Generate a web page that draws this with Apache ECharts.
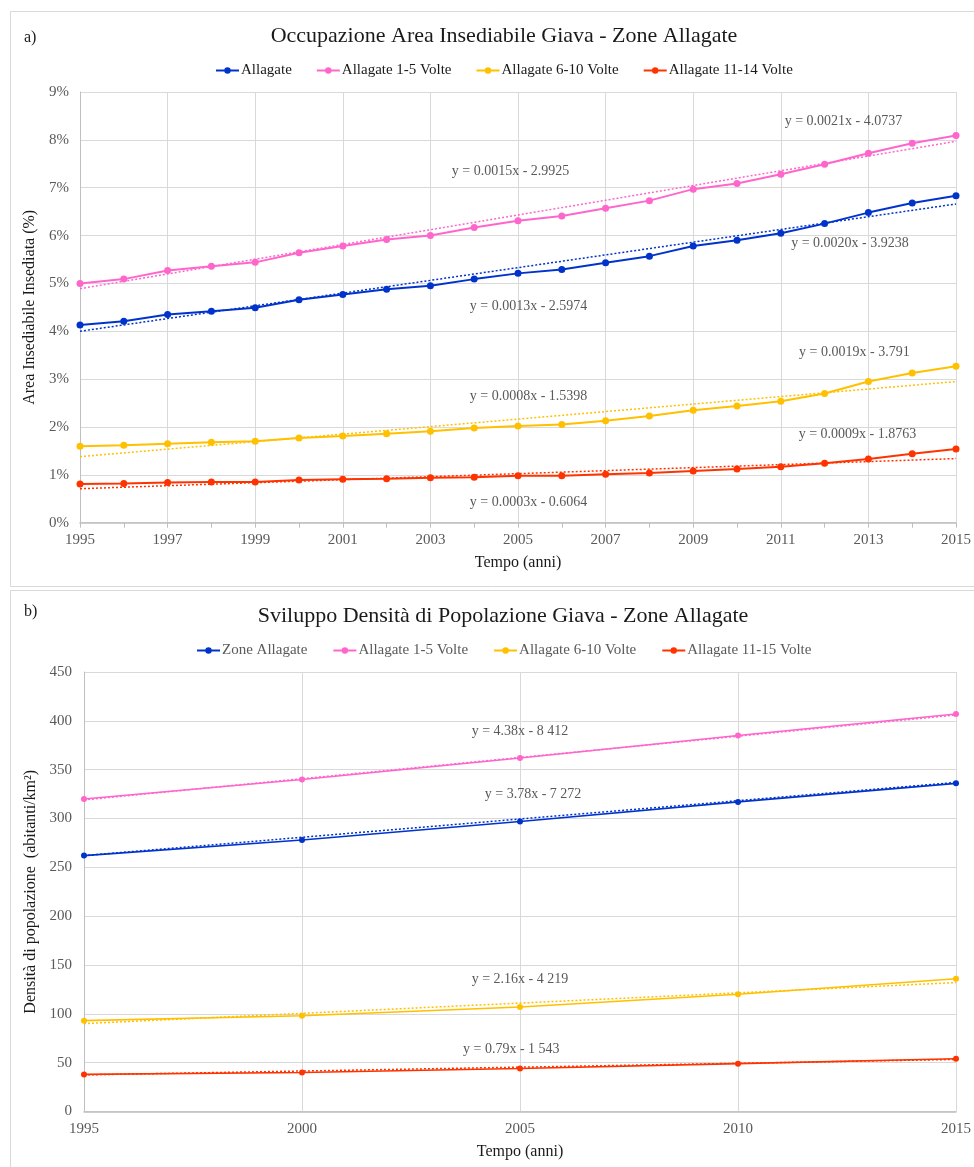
<!DOCTYPE html>
<html><head><meta charset="utf-8">
<script src="https://cdn.jsdelivr.net/npm/echarts@6/dist/echarts.min.js"></script>
<style>html,body{margin:0;padding:0;background:#fff}#c{width:974px;height:1167px}</style>
</head><body><div id="c"></div><script>
// ---------- Chart a) data ----------
const yearsA = [1995,1996,1997,1998,1999,2000,2001,2002,2003,2004,2005,2006,2007,2008,2009,2010,2011,2012,2013,2014,2015];
const allagateA = [4.13,4.21,4.35,4.42,4.49,4.66,4.77,4.88,4.95,5.09,5.21,5.29,5.43,5.57,5.78,5.90,6.05,6.25,6.48,6.68,6.83];
const volte1_5A = [5.00,5.09,5.27,5.36,5.44,5.64,5.78,5.92,6.00,6.17,6.31,6.41,6.57,6.73,6.97,7.09,7.28,7.49,7.72,7.93,8.09];
const volte6_10A = [1.60,1.62,1.65,1.68,1.70,1.77,1.81,1.86,1.91,1.98,2.02,2.05,2.13,2.23,2.35,2.44,2.54,2.70,2.95,3.13,3.27];
const volte11_14A = [0.81,0.82,0.84,0.85,0.85,0.89,0.91,0.92,0.94,0.95,0.98,0.98,1.01,1.04,1.08,1.12,1.17,1.24,1.33,1.44,1.54];
const namesA = ['Allagate','Allagate 1-5 Volte','Allagate 6-10 Volte','Allagate 11-14 Volte'];
const trendStartA = [4.00,4.89,1.38,0.71];   // trendline value at 1995
const trendEndA = [6.66,7.97,2.95,1.34];     // trendline value at 2015
const eqTextA = ['y = 0.0013x - 2.5974','y = 0.0015x - 2.9925','y = 0.0008x - 1.5398','y = 0.0003x - 0.6064',
                 'y = 0.0020x - 3.9238','y = 0.0021x - 4.0737','y = 0.0019x - 3.791','y = 0.0009x - 1.8763'];
const eqPosA = [[2005.24,4.52],[2004.83,7.35],[2005.24,2.64],[2005.24,0.43],
                [2012.58,5.84],[2012.43,8.38],[2012.68,3.55],[2012.75,1.84]];

// ---------- Chart b) data ----------
const yearsB = [1995,2000,2005,2010,2015];
const zoneB = [262,278,297,317,336];
const volte1_5B = [320,340,362,385,407];
const volte6_10B = [93,98,107,120,136];
const volte11_15B = [38,40,44,49,54];
const namesB = ['Zone Allagate','Allagate 1-5 Volte','Allagate 6-10 Volte','Allagate 11-15 Volte'];
const trendStartB = [262,319,90,37.5];
const trendEndB = [337,406,132,53.3];
const eqTextB = ['y = 3.78x - 7 272','y = 4.38x - 8 412','y = 2.16x - 4 219','y = 0.79x - 1 543'];
const eqPosB = [[2005.3,325],[2005.0,389],[2005.0,135],[2004.8,64]];

const colors = ['#0033cc','#ff66cc','#ffc000','#ff3300'];
const FONT = 'Liberation Serif';
const GRID_C = '#d9d9d9';
const TXT = '#595959';

const chart = echarts.init(document.getElementById('c'), null, {renderer:'canvas'});

function zip(xs, ys){ return xs.map((x,i)=>[x, ys[i]]); }

const series = [];
const valsA = [allagateA, volte1_5A, volte6_10A, volte11_14A];
const valsB = [zoneB, volte1_5B, volte6_10B, volte11_15B];

function eqMark(texts, pos){
  return {
    symbol:'rect', symbolSize:1, silent:true,
    itemStyle:{color:'rgba(0,0,0,0)'},
    label:{show:true, position:'inside', color:TXT, fontFamily:FONT, fontSize:14},
    data: texts.map((t,i)=>({coord:pos[i], value:t, label:{formatter:t}}))
  };
}

// chart a)
valsA.forEach((v,i)=>{
  series.push({
    name:namesA[i], type:'line', xAxisIndex:0, yAxisIndex:0,
    data: zip(yearsA, v), symbol:'circle', symbolSize:7,
    lineStyle:{width:2, color:colors[i]}, itemStyle:{color:colors[i]}, z:3
  });
});
valsA.forEach((v,i)=>{
  series.push({
    name:'trendA'+i, type:'line', xAxisIndex:0, yAxisIndex:0,
    data: [[yearsA[0], trendStartA[i]],[yearsA[yearsA.length-1], trendEndA[i]]],
    symbol:'none', lineStyle:{width:1.5, type:[2,2], color:colors[i]}, z:2,
    markPoint: eqMark([eqTextA[i], eqTextA[i+4]], [eqPosA[i], eqPosA[i+4]])
  });
});
// chart b)
valsB.forEach((v,i)=>{
  series.push({
    name:namesB[i], type:'line', xAxisIndex:1, yAxisIndex:1,
    data: zip(yearsB, v), symbol:'circle', symbolSize:6,
    lineStyle:{width:1.6, color:colors[i]}, itemStyle:{color:colors[i]}, z:3
  });
});
valsB.forEach((v,i)=>{
  series.push({
    name:'trendB'+i, type:'line', xAxisIndex:1, yAxisIndex:1,
    data: [[yearsB[0], trendStartB[i]],[yearsB[yearsB.length-1], trendEndB[i]]],
    symbol:'none', lineStyle:{width:1.5, type:[2,2], color:colors[i]}, z:2,
    markPoint: eqMark([eqTextB[i]], [eqPosB[i]])
  });
});

const axisLbl = {color:TXT, fontFamily:FONT, fontSize:15};
const nameStyle = {color:'#1a1a1a', fontFamily:FONT, fontSize:16};

chart.setOption({
  animation:false,
  backgroundColor:'#fff',
  textStyle:{fontFamily:FONT},
  graphic:[
    {type:'rect', shape:{x:10.5,y:11.5,width:980,height:575}, style:{fill:'none', stroke:'#d9d9d9', lineWidth:1}, silent:true},
    {type:'rect', shape:{x:10.5,y:590.5,width:980,height:600}, style:{fill:'none', stroke:'#d9d9d9', lineWidth:1}, silent:true},
    {type:'text', left:24, top:30, style:{text:'a)', font:'16px "Liberation Serif"', fill:'#1a1a1a'}},
    {type:'text', left:24, top:604, style:{text:'b)', font:'16px "Liberation Serif"', fill:'#1a1a1a'}}
  ],
  title:[
    {text:'Occupazione Area Insediabile Giava - Zone Allagate', left:499, top:20, textAlign:'center',
     textStyle:{fontFamily:FONT, fontSize:22, fontWeight:'normal', color:'#1a1a1a'}},
    {text:'Sviluppo Densità di Popolazione Giava - Zone Allagate', left:498, top:600, textAlign:'center',
     textStyle:{fontFamily:FONT, fontSize:22, fontWeight:'normal', color:'#1a1a1a'}}
  ],
  legend:[
    {data:namesA, left:210, top:58, itemWidth:23, itemHeight:8, itemGap:24,
     textStyle:{fontFamily:FONT, fontSize:15, color:'#1a1a1a', padding:[0,0,0,-3]}},
    {data:namesB, left:191, top:638, itemWidth:23, itemHeight:8, itemGap:25,
     textStyle:{fontFamily:FONT, fontSize:15, color:TXT, padding:[0,0,0,-3]}}
  ],
  grid:[
    {left:80, right:15, top:92, height:430.7},
    {left:84, right:15, top:672, height:439.5}
  ],
  xAxis:[
    {type:'value', gridIndex:0, min:1995, max:2015, interval:2,
     name:'Tempo (anni)', nameLocation:'middle', nameGap:32, nameTextStyle:nameStyle,
     axisLine:{lineStyle:{color:'#bfbfbf', width:1.5}},
     axisTick:{show:true, length:5, lineStyle:{color:'#bfbfbf'}},
     minorTick:{show:true, splitNumber:2, length:5, lineStyle:{color:'#bfbfbf'}},
     splitLine:{show:true, lineStyle:{color:GRID_C}},
     axisLabel:Object.assign({margin:10, formatter:v=>String(v)}, axisLbl)},
    {type:'value', gridIndex:1, min:1995, max:2015, interval:5,
     name:'Tempo (anni)', nameLocation:'middle', nameGap:32, nameTextStyle:nameStyle,
     axisLine:{lineStyle:{color:'#bfbfbf', width:1.5}},
     axisTick:{show:false},
     splitLine:{show:true, lineStyle:{color:GRID_C}},
     axisLabel:Object.assign({margin:10, formatter:v=>String(v)}, axisLbl)}
  ],
  yAxis:[
    {type:'value', gridIndex:0, min:0, max:9, interval:1,
     name:'Area Insediabile Insediata (%)', nameLocation:'middle', nameGap:38, nameTextStyle:nameStyle,
     axisLine:{show:true, lineStyle:{color:'#bfbfbf'}},
     axisTick:{show:false},
     splitLine:{show:true, lineStyle:{color:GRID_C}},
     axisLabel:Object.assign({margin:11, formatter:'{value}%'}, axisLbl)},
    {type:'value', gridIndex:1, min:0, max:450, interval:50,
     name:'Densità di popolazione  (abitanti/km²)', nameLocation:'middle', nameGap:45, nameTextStyle:nameStyle,
     axisLine:{show:true, lineStyle:{color:'#bfbfbf'}},
     axisTick:{show:false},
     splitLine:{show:true, lineStyle:{color:GRID_C}},
     axisLabel:Object.assign({margin:12}, axisLbl)}
  ],
  series: series
});
</script></body></html>
